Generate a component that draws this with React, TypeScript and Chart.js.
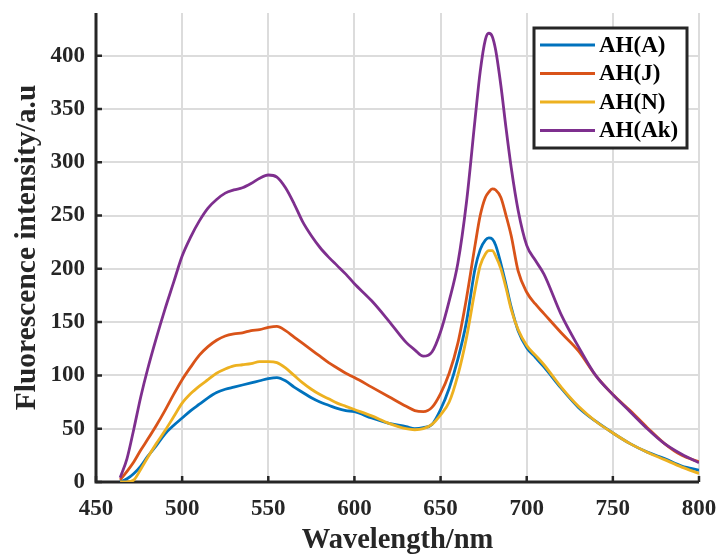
import React, { useEffect, useRef } from "react";
import { Chart, registerables } from "chart.js";

Chart.register(...registerables);

const wavelengths = [464, 468, 472, 476, 480, 485, 490, 495, 500, 505, 510, 515, 520, 525, 530, 535, 540, 545, 550, 555, 560, 565, 570, 575, 580, 585, 590, 595, 600, 610, 620, 630, 635, 640, 645, 650, 655, 660, 665, 670, 673, 676, 678, 680, 682, 685, 688, 691, 695, 700, 705, 710, 720, 730, 740, 750, 760, 770, 780, 790, 800];

const seriesA = [0, 3, 8, 15, 24, 34, 45, 53, 60, 67, 73, 79, 84, 87, 89, 91, 93, 95, 97, 98, 95, 89, 84, 79, 75, 72, 69, 67, 66, 60, 55, 52, 50, 51, 54, 68, 88, 115, 150, 200, 218, 227, 229, 228, 222, 205, 185, 164, 142, 126, 117, 108, 88, 70, 57, 46, 36, 28, 22, 15, 11];

const seriesJ = [2, 10, 19, 30, 40, 53, 67, 82, 96, 108, 119, 127, 133, 137, 139, 140, 142, 143, 145, 146, 142, 136, 130, 124, 118, 112, 107, 102, 98, 89, 80, 71, 67, 66, 70, 83, 102, 130, 172, 222, 250, 267, 272, 275, 274, 267, 250, 231, 198, 178, 167, 158, 140, 123, 100, 82, 67, 51, 36, 25, 19];

const seriesN = [0, 0, 2, 12, 23, 36, 48, 61, 74, 83, 90, 96, 102, 106, 109, 110, 111, 113, 113, 112, 107, 100, 93, 87, 82, 78, 74, 71, 68, 62, 55, 50, 49, 50, 54, 63, 75, 100, 135, 180, 203, 214, 217, 217, 212, 200, 182, 162, 143, 128, 119, 110, 89, 71, 57, 46, 36, 28, 21, 14, 8];

const seriesAk = [4, 22, 50, 80, 106, 135, 162, 187, 212, 230, 245, 257, 265, 271, 274, 276, 280, 285, 288, 286, 276, 261, 244, 231, 220, 211, 203, 195, 186, 170, 151, 131, 124, 118, 122, 141, 170, 205, 262, 340, 385, 415, 421, 418, 405, 372, 332, 295, 255, 222, 208, 195, 157, 127, 100, 82, 66, 50, 36, 26, 18];

const seriesNames = ["AH(A)", "AH(J)", "AH(N)", "AH(Ak)"];
const seriesColors = ["#0072BD", "#D95319", "#EDB120", "#7E2F8E"];
const xTicks = [450, 500, 550, 600, 650, 700, 750, 800];
const yTicks = [0, 50, 100, 150, 200, 250, 300, 350, 400];

const FONT = "'Liberation Serif', 'Times New Roman', serif";
const AXIS_COLOR = "#262626";

const matlabPlugin = {
  id: "matlabAxes",
  beforeDatasetsDraw(chart: any) {
    const { ctx, chartArea, scales } = chart;
    const { left, right, top, bottom } = chartArea;
    ctx.save();
    ctx.strokeStyle = AXIS_COLOR;
    ctx.lineWidth = 3;
    ctx.beginPath();
    ctx.moveTo(left, top);
    ctx.lineTo(left, bottom);
    ctx.lineTo(right, bottom);
    ctx.stroke();
    ctx.lineWidth = 2.5;
    ctx.beginPath();
    for (const t of xTicks) {
      const x = scales.x.getPixelForValue(t);
      ctx.moveTo(x, bottom);
      ctx.lineTo(x, bottom - 6);
    }
    for (const t of yTicks) {
      const y = scales.y.getPixelForValue(t);
      ctx.moveTo(left, y);
      ctx.lineTo(left + 6, y);
    }
    ctx.stroke();
    ctx.restore();
  },
  afterDraw(chart: any) {
    const { ctx, chartArea } = chart;
    const bx = chartArea.right - 165;
    const by = chartArea.top + 15;
    const bw = 153;
    const bh = 120;
    ctx.save();
    ctx.fillStyle = "#ffffff";
    ctx.fillRect(bx, by, bw, bh);
    ctx.strokeStyle = AXIS_COLOR;
    ctx.lineWidth = 3;
    ctx.strokeRect(bx, by, bw, bh);
    ctx.font = `bold 23px ${FONT}`;
    ctx.textBaseline = "middle";
    ctx.textAlign = "left";
    seriesNames.forEach((name, i) => {
      const y = by + 17 + i * 28.5;
      ctx.strokeStyle = seriesColors[i];
      ctx.lineWidth = 3;
      ctx.beginPath();
      ctx.moveTo(bx + 6, y);
      ctx.lineTo(bx + 61, y);
      ctx.stroke();
      ctx.fillStyle = "#000000";
      ctx.fillText(name, bx + 65, y + 1);
    });
    ctx.restore();
  },
};

export default function App() {
  const canvasRef = useRef<HTMLCanvasElement | null>(null);

  useEffect(() => {
    const canvas = canvasRef.current;
    if (!canvas) return;
    const allSeries = [seriesA, seriesJ, seriesN, seriesAk];
    const datasets = allSeries.map((s, i) => ({
      label: seriesNames[i],
      data: wavelengths.map((w, j) => ({ x: w, y: s[j] })),
      borderColor: seriesColors[i],
      backgroundColor: seriesColors[i],
      borderWidth: 2.8,
      pointRadius: 0,
      cubicInterpolationMode: "monotone" as const,
      order: 4 - i,
    }));
    const chart = new Chart(canvas, {
      type: "line",
      data: { datasets },
      options: {
        responsive: false,
        animation: false,
        devicePixelRatio: 1,
        layout: { padding: { left: 0, top: 13, right: 24, bottom: 0 } },
        plugins: { legend: { display: false }, tooltip: { enabled: false } },
        scales: {
          x: {
            type: "linear",
            min: 450,
            max: 800,
            afterBuildTicks: (scale: any) => {
              scale.ticks = xTicks.map((v) => ({ value: v }));
            },
            afterFit: (scale: any) => {
              scale.height = 76;
              scale.paddingLeft = 0;
              scale.paddingRight = 0;
              scale.paddingTop = 0;
              scale.paddingBottom = 0;
            },
            grid: { color: "#dcdcdc", lineWidth: 2, drawTicks: false },
            border: { display: false },
            ticks: {
              color: AXIS_COLOR,
              font: { family: FONT, size: 23, weight: "bold" },
              padding: 13,
              maxRotation: 0,
            },
            title: {
              display: true,
              text: "Wavelength/nm",
              color: AXIS_COLOR,
              font: { family: FONT, size: 28.5, weight: "bold" },
              padding: { top: 2, bottom: 0 },
            },
          },
          y: {
            type: "linear",
            min: 0,
            max: 440,
            afterBuildTicks: (scale: any) => {
              scale.ticks = yTicks.map((v) => ({ value: v }));
            },
            afterFit: (scale: any) => {
              scale.width = 96;
              scale.paddingLeft = 0;
              scale.paddingRight = 0;
              scale.paddingTop = 0;
              scale.paddingBottom = 0;
            },
            grid: { color: "#dcdcdc", lineWidth: 2, drawTicks: false },
            border: { display: false },
            ticks: {
              color: AXIS_COLOR,
              font: { family: FONT, size: 23, weight: "bold" },
              padding: 11,
            },
            title: {
              display: true,
              text: "Fluorescence intensity/a.u",
              color: AXIS_COLOR,
              font: { family: FONT, size: 29.5, weight: "bold" },
              padding: { top: 10, bottom: 0 },
            },
          },
        },
      },
      plugins: [matlabPlugin],
    });
    return () => chart.destroy();
  }, []);

  return (
    <div style={{ position: "fixed", left: 0, top: 0, width: 723, height: 558, background: "#ffffff" }}>
      <canvas ref={canvasRef} width={723} height={558} style={{ width: 723, height: 558 }} />
    </div>
  );
}
